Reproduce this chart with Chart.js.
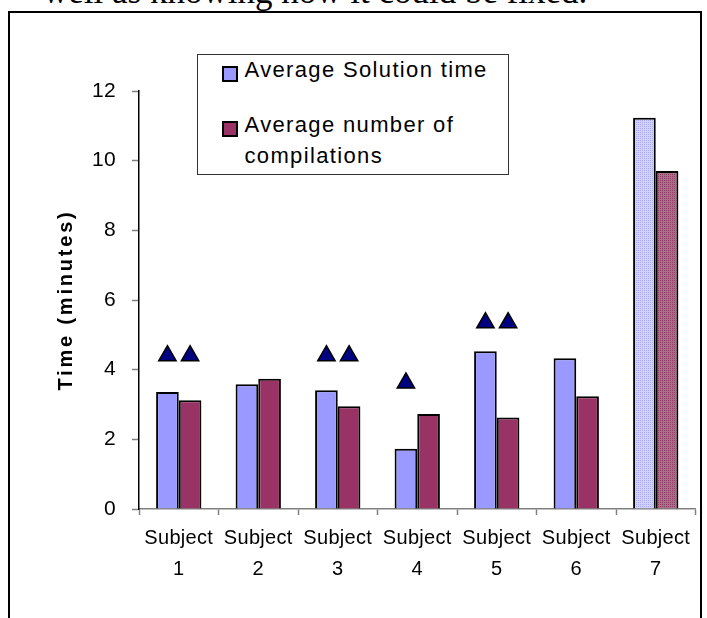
<!DOCTYPE html>
<html>
<head>
<meta charset="utf-8">
<script src="https://cdn.jsdelivr.net/npm/chart.js@4.4.1/dist/chart.umd.min.js"></script>
<style>
  html, body { margin: 0; padding: 0; background: #fff; overflow: hidden; }
  body { width: 707px; height: 618px; position: relative; font-family: "Liberation Sans", Arial, sans-serif; }
  #caption { position: absolute; left: 43px; top: -28px; font: 35px "Liberation Serif", "Times New Roman", serif; white-space: nowrap; color: #000; }
  #frame { position: absolute; left: 8px; top: 11px; width: 694px; height: 700px; border: 2px solid #000; box-sizing: border-box; }
  #chartBox { position: absolute; left: 0; top: 0; width: 707px; height: 618px; }
  #legend { position: absolute; left: 197px; top: 54px; width: 312px; height: 121px; border: 1.5px solid #333; box-sizing: border-box; background: #fff; }
  .item { position: absolute; left: 46.5px; font-size: 22px; letter-spacing: 1.35px; line-height: 31px; color: #000; white-space: nowrap; }
  .swatch { position: absolute; left: 23.5px; width: 16px; height: 16px; border: 2px solid #000; box-sizing: border-box; }
</style>
</head>
<body>
<div id="caption">well as knowing how it could be fixed.</div>
<div id="frame"></div>
<div id="chartBox"><canvas id="chart" width="707" height="618"></canvas></div>
<div id="legend">
  <div class="swatch" style="top: 11px; background: #9999ff;"></div>
  <div class="item" style="top: -1.5px;">Average Solution time</div>
  <div class="swatch" style="top: 66px; background: #993366;"></div>
  <div class="item" style="top: 53.5px;">Average number of<br>compilations</div>
</div>
<script>
const subjects = [['Subject', '1'], ['Subject', '2'], ['Subject', '3'], ['Subject', '4'], ['Subject', '5'], ['Subject', '6'], ['Subject', '7']];
const solutionTime = [3.36, 3.58, 3.41, 1.73, 4.53, 4.33, 11.23];
const compilations = [3.12, 3.74, 2.95, 2.73, 2.63, 3.24, 9.70];
// triangle markers drawn above some bars
const solutionMarks = [4.4, null, 4.4, 3.62, 5.35, null, null];
const compileMarks = [4.4, null, 4.4, null, 5.35, null, null];

function makePattern(base, dot) {
  const c = document.createElement('canvas');
  c.width = 4; c.height = 4;
  const g = c.getContext('2d');
  g.fillStyle = base;
  g.fillRect(0, 0, 4, 4);
  g.fillStyle = dot;
  g.fillRect(0, 0, 1, 1);
  g.fillRect(2, 2, 1, 1);
  g.fillRect(2, 0, 1, 1);
  g.fillRect(0, 2, 1, 1);
  return g.createPattern(c, 'repeat');
}

const blueFill = solutionTime.map((v, i) => i === 6 ? makePattern('#d3d3f9', '#a8a8f4') : '#9999ff');
const maroonFill = compilations.map((v, i) => i === 6 ? makePattern('#aa7288', '#8e3a64') : '#993366');

const tickSpacing = '0.3px';

// canvas resets letterSpacing on resize, so set it again before work
const spacing = {
  id: 'spacing',
  afterInit(chart) { chart.ctx.letterSpacing = tickSpacing; },
  beforeUpdate(chart) { chart.ctx.letterSpacing = tickSpacing; },
  beforeDraw(chart) { chart.ctx.letterSpacing = tickSpacing; }
};

// put each triangle over its own bar instead of the category centre
const markerAlign = {
  id: 'markerAlign',
  afterDatasetsUpdate(chart) {
    [[2, 0], [3, 1]].forEach(([mark, bar]) => {
      const pts = chart.getDatasetMeta(mark).data;
      const bars = chart.getDatasetMeta(bar).data;
      pts.forEach((p, i) => { p.x = bars[i].x; });
    });
  }
};

const chart = new Chart(document.getElementById('chart'), {
  type: 'bar',
  data: {
    labels: subjects,
    datasets: [
      {
        label: 'Average Solution time',
        data: solutionTime,
        backgroundColor: blueFill,
        borderColor: '#000',
        borderWidth: 2,
        categoryPercentage: 0.57,
        barPercentage: 1.0
      },
      {
        label: 'Average number of compilations',
        data: compilations,
        backgroundColor: maroonFill,
        borderColor: '#000',
        borderWidth: 2,
        categoryPercentage: 0.57,
        barPercentage: 1.0
      },
      {
        type: 'line',
        data: solutionMarks,
        showLine: false,
        pointStyle: 'triangle',
        pointRadius: 10,
        backgroundColor: '#000080',
        borderColor: '#000',
        borderWidth: 1.5
      },
      {
        type: 'line',
        data: compileMarks,
        showLine: false,
        pointStyle: 'triangle',
        pointRadius: 10,
        backgroundColor: '#000080',
        borderColor: '#000',
        borderWidth: 1.5
      }
    ]
  },
  options: {
    responsive: false,
    animation: false,
    devicePixelRatio: 1,
    layout: { padding: { left: 54, right: 8, top: 91, bottom: 25 } },
    plugins: {
      legend: { display: false },
      tooltip: { enabled: false }
    },
    scales: {
      x: {
        offset: true,
        border: { color: '#808080', width: 1.5 },
        grid: { offset: true, drawOnChartArea: false, tickLength: 6, tickColor: '#808080', tickWidth: 1.5 },
        ticks: { color: '#000', padding: 8, maxRotation: 0, font: { family: 'Liberation Sans', size: 20, lineHeight: 1.55 } }
      },
      y: {
        min: 0,
        max: 12,
        border: { color: '#000', width: 1.5 },
        grid: { drawOnChartArea: false, tickLength: 7, tickColor: '#808080', tickWidth: 1.5 },
        ticks: { stepSize: 2, color: '#000', padding: 16, font: { family: 'Liberation Sans', size: 21 } },
        title: {
          display: true,
          text: 'Time (minutes)',
          color: '#000',
          padding: 0,
          font: { family: 'Liberation Sans', size: 20, weight: 'bold', lineHeight: 1.2 }
        },
        afterFit(scale) {
          scale.width = 85;
          if (!scale.spacedTitle) {
            const drawTitle = scale.drawTitle.bind(scale);
            scale.drawTitle = function () {
              this.ctx.letterSpacing = '2.8px';
              drawTitle();
              this.ctx.letterSpacing = tickSpacing;
            };
            scale.spacedTitle = true;
          }
        }
      }
    }
  },
  plugins: [spacing, markerAlign]
});
</script>
</body>
</html>
